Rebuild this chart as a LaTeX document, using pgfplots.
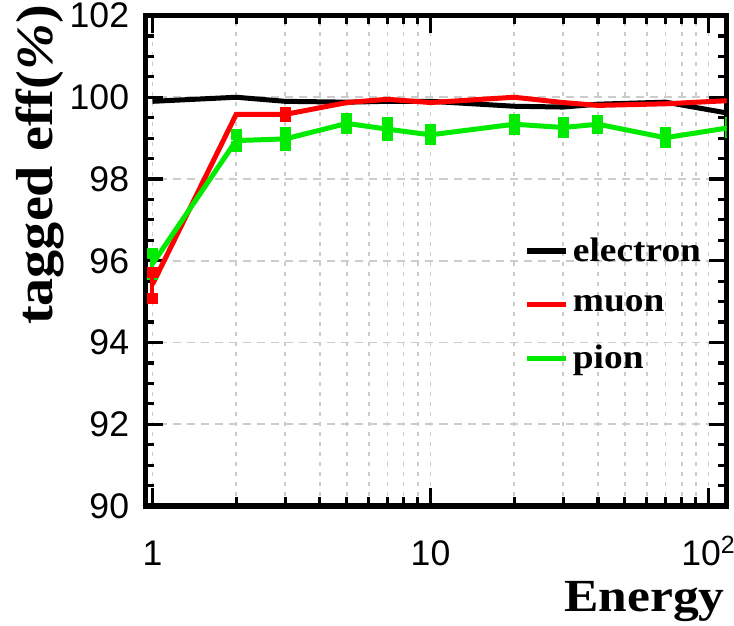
\documentclass[border=0pt]{standalone}
\usepackage{fontspec}
\setmainfont{Liberation Serif}
\setsansfont{Liberation Sans}
\usepackage{graphicx}
\usepackage{pgfplots}
\pgfplotsset{compat=1.18}

% the reference's serif labels are set a little wider than Times
\newcommand{\wide}[2][1.1]{\scalebox{#1}[1]{#2}}

\pgfplotstableread{
x y
1 99.90
2 100.00
3 99.90
5 99.88
7 99.90
10 99.90
20 99.78
30 99.76
40 99.83
70 99.88
120 99.60
}\electron

\pgfplotstableread{
x y
1 95.42
2 99.58
3 99.58
5 99.87
7 99.95
10 99.87
20 100.00
30 99.87
40 99.80
70 99.84
120 99.92
}\muon

% muon points whose error bars stick out of the line
\pgfplotstableread{
x y err
1 95.40 0.32
3 99.58 0.05
}\muonerr

\pgfplotstableread{
x y err
1 95.92 0.25
2 98.94 0.15
3 98.98 0.15
5 99.36 0.12
7 99.22 0.15
10 99.08 0.12
20 99.34 0.12
30 99.26 0.12
40 99.34 0.10
70 99.01 0.12
120 99.26 0.12
}\pion

\definecolor{pgreen}{RGB}{0,235,0}

\begin{document}
\begin{tikzpicture}
\begin{semilogxaxis}[
    name=ax,
    scale only axis,
    width=290.5pt, height=245.25pt,
    xmin=0.944, xmax=116,
    ymin=90, ymax=102,
    ytick={90,92,...,102},
    minor y tick num=3,
    xtick={1,10,100},
    xticklabels={1,10,10\textsuperscript{2}},
    /pgf/number format/assume math mode=true,
    ticklabel style={font=\sffamily\fontsize{17.8}{20}\selectfont},
    xticklabel style={anchor=base, inner sep=0pt, yshift=-30pt},
    yticklabel style={inner sep=0pt, xshift=-8pt},
    major tick length=9pt,
    minor tick length=4.5pt,
    every tick/.style={black, line width=1.6pt},
    axis line style={line width=2.8pt, line join=miter},
    xmajorgrids, xminorgrids, ymajorgrids,
    x grid style={gray!40, line width=0.9pt, dash pattern=on 2pt off 3pt},
    y grid style={gray!40, line width=0.9pt, dash pattern=on 4pt off 3pt},
    xlabel={\wide[1.12]{Energy}},
    xlabel style={font=\bfseries\fontsize{23}{26}\selectfont, inner sep=0pt,
        at={(axis description cs:0.859,-0.215)}, anchor=base},
    ylabel={\wide[1.08]{tagged eff(\textit{\%})}},
    ylabel style={font=\bfseries\fontsize{26}{29}\selectfont, inner sep=1pt,
        at={(axis description cs:-0.1816,0.695)}, anchor=center},
    legend style={draw=none, fill=none, at={(axis description cs:0.652,0.41)}, anchor=west,
        font=\bfseries\fontsize{17}{19}\selectfont, row sep=11.5pt, inner sep=0pt},
    legend cell align=left,
    legend image code/.code={\draw[line width=2.6pt] (0pt,0pt) -- (19.5pt,0pt);},
    error bars/error bar style={line width=2pt},
    error bars/error mark=square*,
]
\addplot[black, line width=2.5pt, mark=none] table[x=x, y=y] {\electron};
\addlegendentry{\wide{electron}}
\addplot[red, line width=2.5pt, mark=none] table[x=x, y=y] {\muon};
\addlegendentry{\wide{muon}}
\addplot[pgreen, line width=2.5pt, mark=none,
    error bars/.cd, y dir=both, y explicit,
    error mark options={pgreen, fill=pgreen, mark size=2.5pt, line width=0pt}]
    table[x=x, y=y, y error=err] {\pion};
\addlegendentry{\wide{pion}}
\addplot[red, draw=none, mark=none, forget plot,
    error bars/.cd, y dir=both, y explicit,
    error bar style={red, line width=2pt},
    error mark options={red, fill=red, mark size=2.5pt, line width=0pt}]
    table[x=x, y=y, y error=err] {\muonerr};
\end{semilogxaxis}
\pgfresetboundingbox
\useasboundingbox ([xshift=-72.75pt,yshift=-60pt]ax.south west)
    rectangle ([xshift=3.75pt,yshift=7.75pt]ax.north east);
\end{tikzpicture}
\end{document}
